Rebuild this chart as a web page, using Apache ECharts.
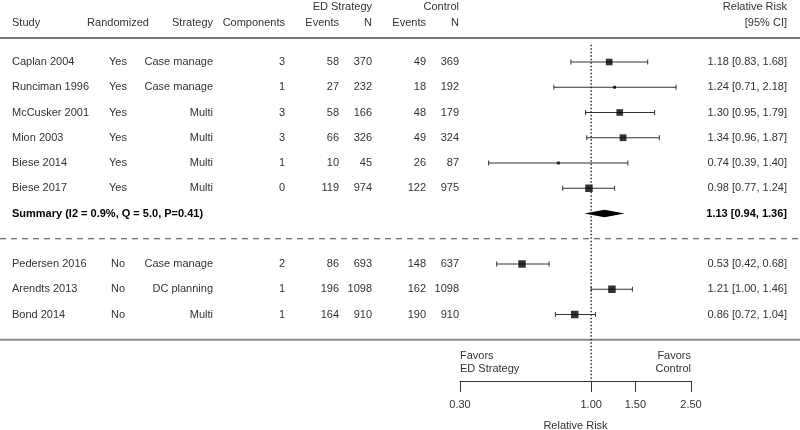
<!DOCTYPE html>
<html><head><meta charset="utf-8">
<script src="https://cdn.jsdelivr.net/npm/echarts@6/dist/echarts.min.js"></script>
<style>html,body{margin:0;padding:0;background:#fff}#c{width:800px;height:430px}</style>
</head><body><div id="c"></div>
<script>
// ---------- data ----------
const studies = ['Caplan 2004','Runciman 1996','McCusker 2001','Mion 2003','Biese 2014','Biese 2017','Pedersen 2016','Arendts 2013','Bond 2014'];
const randomized = ['Yes','Yes','Yes','Yes','Yes','Yes','No','No','No'];
const strategy = ['Case manage','Case manage','Multi','Multi','Multi','Multi','Case manage','DC planning','Multi'];
const components = [3,1,3,3,1,0,2,1,1];
const edEvents = [58,27,58,66,10,119,86,196,164];
const edN = [370,232,166,326,45,974,693,1098,910];
const ctrlEvents = [49,18,48,49,26,122,148,162,190];
const ctrlN = [369,192,179,324,87,975,637,1098,910];
const rr = [1.18,1.24,1.30,1.34,0.74,0.98,0.53,1.21,0.86];
const ciLow = [0.83,0.71,0.95,0.96,0.39,0.77,0.42,1.00,0.72];
const ciHigh = [1.68,2.18,1.79,1.87,1.40,1.24,0.68,1.46,1.04];
const studyWeight = [44,9,44,46,9,56,56,56,56];
const studyRow = [0,1,2,3,4,5,8,9,10];
const summaryLabel = 'Summary (I2 = 0.9%, Q = 5.0, P=0.41)';
const summaryRR = [1.13, 0.94, 1.36]; // estimate, low, high
const summaryRow = 6;
const axisTicks = [0.30, 1.00, 1.50, 2.50];
const axisRange = [0.30, 2.50];
const refValue = 1.00;
const headerTop = ['', '', '', '', '', 'ED Strategy', '', 'Control', 'Relative Risk'];
const headerBottom = ['Study','Randomized','Strategy','Components','Events','N','Events','N','[95% CI]'];
const favorsText = ['Favors','ED Strategy','Favors','Control'];

// ---------- layout ----------
const FONT = 'Liberation Sans, Arial, sans-serif';
const FS = 11;
const TXT = '#333';
const colX = [12, 118, 213, 285, 339, 372, 426, 459, 787];
const colAlign = ['left','center','right','right','right','right','right','right','right'];
const rowTop = -2.18, rowHead = -1.55;
const ruleRows = [{row:-0.95, type:'solid', color:'#777', width:2},
                  {row:7, type:[6,5], color:'#444', width:1.2},
                  {row:11, type:'solid', color:'#888', width:2}];
const yMin = -1, rowH = 25.25, gridTop = 36.75, axisY = 381;
const yMax = yMin + (axisY - gridTop) / rowH;

const fmt = v => v.toFixed(2);
const cells = [];
headerTop.forEach((t,i)=>{ if(t) cells.push({t, c:i, row:rowTop}); });
headerBottom.forEach((t,i)=>cells.push({t, c:i, row:rowHead}));
studies.forEach((s,i)=>{
  const r = studyRow[i];
  [s, randomized[i], strategy[i], String(components[i]), String(edEvents[i]), String(edN[i]),
   String(ctrlEvents[i]), String(ctrlN[i]), `${fmt(rr[i])} [${fmt(ciLow[i])}, ${fmt(ciHigh[i])}]`]
   .forEach((t,c)=>cells.push({t, c, row:r}));
});
cells.push({t:summaryLabel, c:0, row:summaryRow, bold:true});
cells.push({t:`${fmt(summaryRR[0])} [${fmt(summaryRR[1])}, ${fmt(summaryRR[2])}]`, c:8, row:summaryRow, bold:true});

const L = Math.log;
const chart = echarts.init(document.getElementById('c'), null, {renderer:'canvas'});
chart.setOption({
  animation:false,
  backgroundColor:'#fff',
  grid:{left:460, right:800-691, top:gridTop, bottom:430-axisY, containLabel:false, outerBoundsMode:'none'},
  xAxis:{type:'value', min:L(axisRange[0]), max:L(axisRange[1]),
    splitLine:{show:false},
    axisLine:{show:true, onZero:false, lineStyle:{color:'#333', width:1}},
    axisTick:{show:true, customValues:axisTicks.map(L), length:11, lineStyle:{color:'#333', width:1}},
    axisLabel:{show:true, customValues:axisTicks.map(L), formatter:v=>Math.exp(v).toFixed(2),
      margin:18, color:TXT, fontSize:FS, fontFamily:FONT},
    name:'Relative Risk', nameLocation:'middle', nameGap:39,
    nameTextStyle:{color:TXT, fontSize:FS, fontFamily:FONT}
  },
  yAxis:{type:'value', inverse:true, min:yMin, max:yMax, show:false},
  series:[
    { // table text
      type:'custom', silent:true, clip:false,
      data: cells.map(c=>[0, c.row]),
      renderItem:(params, api)=>{
        const c = cells[params.dataIndex];
        const y = api.coord([0, api.value(1)])[1];
        return {type:'text', x:colX[c.c], y,
          style:{text:c.t, fill: c.bold ? '#000' : TXT, font:`${c.bold?'bold ':''}${FS}px ${FONT}`,
            align:colAlign[c.c], verticalAlign:'middle'}};
      }
    },
    { // horizontal rules
      type:'custom', silent:true, clip:false,
      data: ruleRows.map(r=>[0, r.row]),
      renderItem:(params, api)=>{
        const r = ruleRows[params.dataIndex];
        const y = api.coord([0, api.value(1)])[1];
        return {type:'line', shape:{x1:0, y1:y, x2:api.getWidth(), y2:y},
          style:{stroke:r.color, lineWidth:r.width, lineDash: r.type==='solid'?null:r.type}};
      }
    },
    { // reference line at RR = 1
      type:'line', silent:true, symbol:'none',
      data:[[L(refValue), -0.68],[L(refValue), yMax]],
      lineStyle:{color:'#222', width:1.4, type:[1.5,2]}
    },
    { // favors labels
      type:'custom', silent:true, clip:false,
      data:[[L(axisRange[0]), 11.64, 0],[L(axisRange[0]), 12.16, 1],[L(axisRange[1]), 11.64, 2],[L(axisRange[1]), 12.16, 3]],
      renderItem:(params, api)=>{
        const p = api.coord([api.value(0), api.value(1)]);
        const i = api.value(2);
        return {type:'text', x:p[0], y:p[1], style:{text:favorsText[i], fill:TXT, font:`${FS}px ${FONT}`,
          align: i<2 ? 'left':'right', verticalAlign:'middle'}};
      }
    },
    { // confidence intervals
      type:'custom', silent:true,
      data: studies.map((s,i)=>[L(ciLow[i]), L(ciHigh[i]), studyRow[i]]),
      renderItem:(params, api)=>{
        const a = api.coord([api.value(0), api.value(2)]);
        const b = api.coord([api.value(1), api.value(2)]);
        const st = {stroke:'#333', lineWidth:1};
        return {type:'group', children:[
          {type:'line', shape:{x1:a[0], y1:a[1], x2:b[0], y2:b[1]}, style:st},
          {type:'line', shape:{x1:a[0], y1:a[1]-2.5, x2:a[0], y2:a[1]+2.5}, style:st},
          {type:'line', shape:{x1:b[0], y1:b[1]-2.5, x2:b[0], y2:b[1]+2.5}, style:st}
        ]};
      }
    },
    { // point estimates
      type:'scatter', silent:true, symbol:'rect',
      data: studies.map((s,i)=>({value:[L(rr[i]), studyRow[i]], symbolSize:Math.sqrt(studyWeight[i])})),
      itemStyle:{color:'#000'}
    },
    { // summary diamond
      type:'custom', silent:true,
      data:[[L(summaryRR[0]), L(summaryRR[1]), L(summaryRR[2]), summaryRow]],
      renderItem:(params, api)=>{
        const r = api.value(3);
        const c = api.coord([api.value(0), r]);
        const lo = api.coord([api.value(1), r]);
        const hi = api.coord([api.value(2), r]);
        const h = 3.8;
        return {type:'polygon', shape:{points:[[lo[0],c[1]],[c[0],c[1]-h],[hi[0],c[1]],[c[0],c[1]+h]]},
          style:{fill:'#000'}};
      }
    }
  ]
});
</script></body></html>
